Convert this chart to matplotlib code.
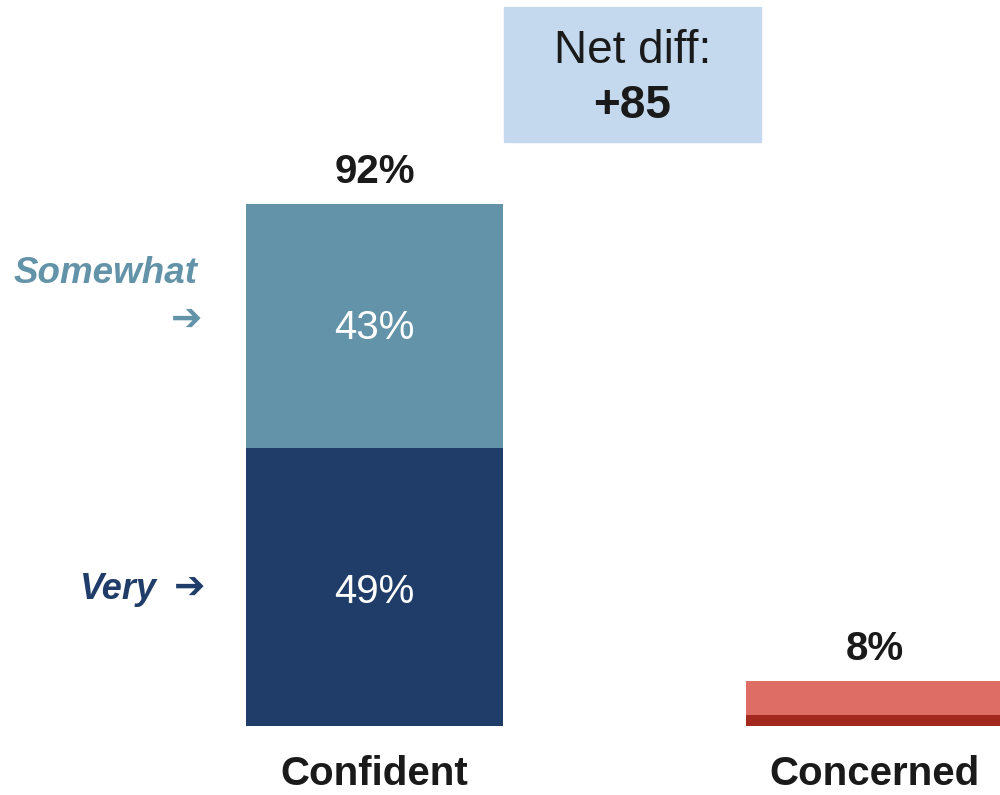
import matplotlib
matplotlib.use("Agg")
import matplotlib.pyplot as plt
from matplotlib.patches import Rectangle

plt.rcParams['font.family'] = ['Liberation Sans', 'DejaVu Sans']

categories = ['Confident', 'Concerned']
lower = [49, 2]      # Very confident / strongly concerned
upper = [43, 6]      # Somewhat
totals = [92, 8]
lower_colors = ['#1F3D68', '#A3291F']
upper_colors = ['#6393A8', '#DE6D66']
net_diff = '+85'

fig = plt.figure(figsize=(10, 7.95), dpi=100)
ax = fig.add_axes([0, 0, 1, 1])
ax.set_xlim(-0.749, 1.251)
ax.set_ylim(-12.16, 127.95)
ax.axis('off')

x = range(len(categories))
ax.bar(x, lower, width=0.514, color=lower_colors)
ax.bar(x, upper, bottom=lower, width=0.514, color=upper_colors)

for i, cat in enumerate(categories):
    ax.text(i, totals[i] + 5.6, f'{totals[i]}%', ha='center', va='center',
            fontsize=29, fontweight='bold', color='#1a1a1a')
    ax.text(i, -8.4, cat, ha='center', va='center', fontsize=29,
            fontweight='bold', color='#1a1a1a')

# segment labels inside the Confident bar
ax.text(0, lower[0] + upper[0] / 2 - 0.3, f'{upper[0]}%', ha='center', va='center',
        fontsize=29, color='white')
ax.text(0, lower[0] / 2 - 0.8, f'{lower[0]}%', ha='center', va='center',
        fontsize=29, color='white')

# side labels
ax.text(-0.353, 79.8, 'Somewhat', ha='right', va='center', fontsize=26.5,
        fontweight='bold', style='italic', color='#6393A8')
ax.text(-0.345, 71.4, '➔', ha='right', va='center', fontsize=27,
        fontweight='bold', color='#6393A8', family=['DejaVu Sans'])
ax.text(-0.435, 24.1, 'Very', ha='right', va='center', fontsize=26,
        fontweight='bold', style='italic', color='#1F3D68')
ax.text(-0.339, 24.1, '➔', ha='right', va='center', fontsize=27,
        fontweight='bold', color='#1F3D68', family=['DejaVu Sans'])

# net diff box
fig.patches.append(Rectangle((0.504, 1 - 142 / 795), 0.257, 135 / 795,
                             transform=fig.transFigure, color='#C5D9EE', zorder=0))
fig.text(0.6325, 1 - 51 / 795, 'Net diff:', ha='center', va='center',
         fontsize=33, color='#1a1a1a')
fig.text(0.6325, 1 - 106 / 795, net_diff, ha='center', va='center',
         fontsize=33, fontweight='bold', color='#1a1a1a')

fig.savefig('out.png', dpi=100)
